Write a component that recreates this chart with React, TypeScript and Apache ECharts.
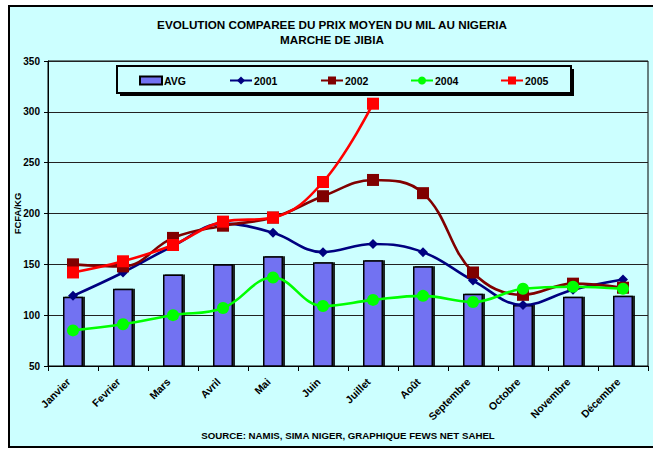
import React, { useEffect, useRef } from "react";
import * as echarts from "echarts";

const months = ["Janvier", "Fevrier", "Mars", "Avril", "Mai", "Juin", "Juillet", "Août", "Septembre", "Octobre", "Novembre", "Décembre"];
const avg = [118, 126, 140, 150, 158, 152, 154, 148, 121, 110, 118, 119];
const y2001 = [119, 142, 168, 190, 181, 162, 170, 162, 134, 110, 125, 135];
const y2002 = [150, 148, 176, 188, 196, 217, 233, 220, 142, 120, 131, 127];
const y2004 = [85, 91, 100, 107, 137, 109, 115, 119, 113, 126, 128, 126];
const y2005 = [142, 153, 169, 192, 196, 231, 308, null, null, null, null, null];
const yTicks = { min: 50, max: 350, interval: 50 };

const FONT = 'Arial, "Liberation Sans", sans-serif';
const BG = "#CCFFFF";

export default function App() {
  const ref = useRef<HTMLDivElement>(null);
  useEffect(() => {
    if (!ref.current) return;
    const chart = echarts.init(ref.current, undefined, { renderer: "svg" });
    const legendItem = (name: string, left: number, icon?: string) => ({
      data: [icon ? { name, icon } : { name }],
      left,
      top: 75,
      padding: 0,
      itemWidth: 22,
      itemHeight: icon ? 8 : 10,
      itemGap: 0,
      textStyle: { fontFamily: FONT, fontSize: 10.5, fontWeight: "bold", color: "#000", padding: [0, 0, 0, -3] },
      z: 10,
    });
    const lineSeries = (name: string, data: (number | null)[], color: string, symbol: string, size: number, z: number) => ({
      name,
      type: "line",
      data,
      smooth: 0.4,
      symbol,
      symbolSize: size,
      showSymbol: true,
      lineStyle: { color, width: 2.6 },
      itemStyle: { color },
      z,
    });
    chart.setOption({
      animation: false,
      backgroundColor: "#fff",
      textStyle: { fontFamily: FONT },
      grid: { left: 48, right: 5, top: 61, bottom: 85, containLabel: false, outerBoundsMode: "none", show: true, backgroundColor: BG, borderColor: "#000", borderWidth: 1 },
      graphic: [
        { type: "rect", z: -10, shape: { x: 9, y: 6, width: 700, height: 441 }, style: { fill: BG, stroke: "#000", lineWidth: 2 } },
        { type: "rect", z: 5, shape: { x: 120, y: 69, width: 454, height: 27 }, style: { fill: "#000" } },
        { type: "rect", z: 6, shape: { x: 117, y: 66, width: 454, height: 27 }, style: { fill: BG, stroke: "#000", lineWidth: 2 } },
        { type: "text", z: 6, x: 332, y: 24, style: { text: "EVOLUTION COMPAREE DU PRIX MOYEN DU MIL AU NIGERIA", align: "center", verticalAlign: "middle", font: `bold 11.7px ${FONT}`, fill: "#000" } },
        { type: "text", z: 6, x: 332, y: 39, style: { text: "MARCHE DE JIBIA", align: "center", verticalAlign: "middle", font: `bold 11.7px ${FONT}`, fill: "#000" } },
        { type: "text", z: 6, x: 348, y: 435, style: { text: "SOURCE: NAMIS, SIMA NIGER, GRAPHIQUE FEWS NET SAHEL", align: "center", verticalAlign: "middle", font: `bold 9.7px ${FONT}`, fill: "#000" } },
      ],
      legend: [
        legendItem("AVG", 139, "rect"),
        legendItem("2001", 229),
        legendItem("2002", 320),
        legendItem("2004", 410),
        legendItem("2005", 500),
      ],
      xAxis: {
        type: "category",
        data: months,
        boundaryGap: true,
        axisLine: { lineStyle: { color: "#000", width: 1 } },
        axisTick: { show: true, length: 5, lineStyle: { color: "#000" } },
        axisLabel: { interval: 0, rotate: 45, fontSize: 10.5, fontWeight: "bold", color: "#000", fontFamily: FONT, margin: 10, padding: [0, 6, 0, 0] },
        splitLine: { show: false },
      },
      yAxis: {
        type: "value",
        min: yTicks.min,
        max: yTicks.max,
        interval: yTicks.interval,
        name: "FCFA/KG",
        nameLocation: "middle",
        nameGap: 26,
        nameMoveOverlap: false,
        nameRotate: 90,
        nameTextStyle: { fontSize: 9.5, fontWeight: "bold", color: "#000", fontFamily: FONT },
        axisLine: { show: true, lineStyle: { color: "#000" } },
        axisTick: { show: true, length: 4, lineStyle: { color: "#000" } },
        axisLabel: { fontSize: 10, fontWeight: "bold", color: "#000", fontFamily: FONT, margin: 8 },
        splitLine: { show: true, lineStyle: { color: "#222", width: 1 } },
      },
      series: [
        {
          name: "AVG",
          type: "bar",
          data: avg,
          barWidth: 20,
          itemStyle: {
            color: "#7272F2",
            borderColor: "#000",
            borderWidth: 1.5,
            shadowColor: "rgba(0,0,0,0.85)",
            shadowOffsetX: 2,
            shadowOffsetY: 0,
          },
          z: 1,
        },
        lineSeries("2001", y2001, "#000080", "diamond", 10, 2),
        lineSeries("2002", y2002, "#800000", "rect", 12, 3),
        lineSeries("2004", y2004, "#00FF00", "circle", 12, 4),
        lineSeries("2005", y2005, "#FF0000", "rect", 12, 5),
      ],
    });
    return () => chart.dispose();
  }, []);
  return <div ref={ref} style={{ position: "absolute", left: 0, top: 0, width: 653, height: 451 }} />;
}
